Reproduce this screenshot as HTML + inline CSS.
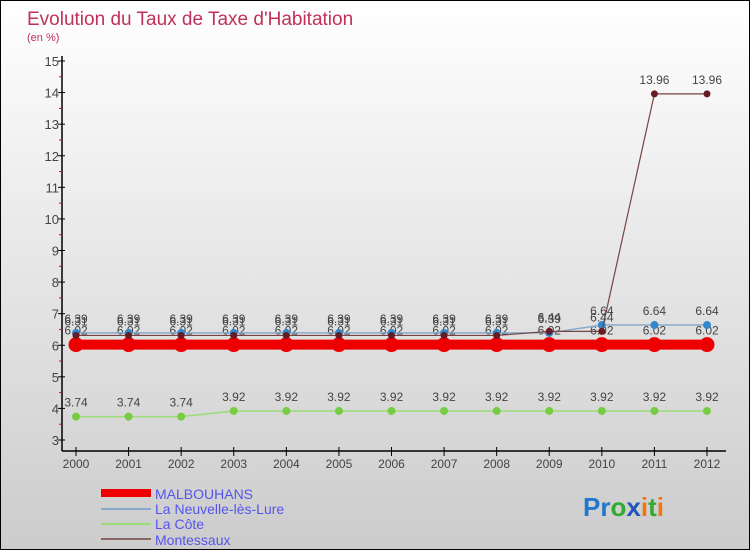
<!DOCTYPE html>
<html><head><meta charset="utf-8"><style>
body{margin:0}
#c{width:750px;height:550px;position:relative;overflow:hidden;background:linear-gradient(#ffffff,#cccccc);font-family:"Liberation Sans",sans-serif;border:1px solid #000;box-sizing:border-box}
svg{position:absolute;left:0;top:0}
</style></head><body>
<div id="c">
<svg id="s" width="750" height="550">
<text x="26" y="24" font-size="19" fill="#c0305a">Evolution du Taux de Taxe d'Habitation</text>
<text x="26" y="40" font-size="11" fill="#c0305a">(en %)</text>
<g id="axes"></g><g id="plot"></g>
<g id="legend" font-size="14" fill="#5555ee">
<rect x="100" y="488" width="50" height="8" fill="#ee0000"/>
<text x="154" y="498">MALBOUHANS</text>
<line x1="100" y1="508" x2="150" y2="508" stroke="#88aacc" stroke-width="2"/>
<text x="154" y="513">La Neuvelle-lès-Lure</text>
<line x1="100" y1="523" x2="150" y2="523" stroke="#99dd77" stroke-width="2"/>
<text x="154" y="528">La Côte</text>
<line x1="100" y1="538" x2="150" y2="538" stroke="#886666" stroke-width="2"/>
<text x="154" y="544">Montessaux</text>
</g>
<text x="582" y="515" font-size="26" font-weight="bold"><tspan fill="#2277cc">Pr</tspan><tspan fill="#33aa33">o</tspan><tspan fill="#2255bb">x</tspan><tspan fill="#ee7711">i</tspan><tspan fill="#33aa33">t</tspan><tspan fill="#ee7711">i</tspan></text>
</svg></div>
<script>
const years=[2000,2001,2002,2003,2004,2005,2006,2007,2008,2009,2010,2011,2012];
const yTicks=[3,4,5,6,7,8,9,10,11,12,13,14,15];
const malbouhans=[6.02,6.02,6.02,6.02,6.02,6.02,6.02,6.02,6.02,6.02,6.02,6.02,6.02];
const neuvelle=[6.39,6.39,6.39,6.39,6.39,6.39,6.39,6.39,6.39,6.39,6.64,6.64,6.64];
const laCote=[3.74,3.74,3.74,3.92,3.92,3.92,3.92,3.92,3.92,3.92,3.92,3.92,3.92];
const montessaux=[6.31,6.31,6.31,6.31,6.31,6.31,6.31,6.31,6.31,6.44,6.44,13.96,13.96];
const NS="http://www.w3.org/2000/svg";
const X=i=>75+i*(706-75)/12;
const Y=v=>439-(v-3)*(439-60)/12;
function mk(t,a,p){const e=document.createElementNS(NS,t);for(const k in a)e.setAttribute(k,a[k]);p.appendChild(e);return e;}
const ax=document.getElementById('axes'),pl=document.getElementById('plot');
let e=mk('line',{x1:61,y1:55,x2:61,y2:450,stroke:'#000','stroke-width':1.5},ax);

e=mk('line',{x1:61,y1:450,x2:725,y2:450,stroke:'#000','stroke-width':1.5},ax);

yTicks.forEach(v=>{mk('line',{x1:57,y1:Y(v),x2:64,y2:Y(v),stroke:'#000'},ax);
 if(v<15)mk('line',{x1:58,y1:Y(v+0.5),x2:61,y2:Y(v+0.5),stroke:'#e00'},ax);
 const t=mk('text',{x:58,y:Y(v)+5,'text-anchor':'end','font-size':13,fill:'#444'},ax);t.textContent=v;
 });
years.forEach((y,i)=>{mk('line',{x1:X(i),y1:446,x2:X(i),y2:455,stroke:'#000'},ax);
 const t=mk('text',{x:X(i),y:467,'text-anchor':'middle','font-size':12,fill:'#444'},ax);t.textContent=y;
 });
function series(d,col,lw,r,dot,name){
 const p=mk('polyline',{points:d.map((v,i)=>X(i)+','+Y(v)).join(' '),fill:'none',stroke:col,'stroke-width':lw},pl);
 
 d.forEach((v,i)=>{const c=mk('circle',{cx:X(i),cy:Y(v),r:r,fill:dot},pl);
  
  const t=mk('text',{x:X(i),y:Y(v)-10,'text-anchor':'middle','font-size':12,fill:'#444'},pl);t.textContent=v.toFixed(2).replace(/0$/,'');
  });
}
series(laCote,'#99dd77',1.5,4,'#77cc44','la-cote');
series(malbouhans,'#ee0000',10,7.5,'#ee0000','malbouhans');
series(neuvelle,'#88aacc',1.5,4,'#3388cc','neuvelle');
series(montessaux,'#774444',1.2,3.5,'#661c22','montessaux');
</script>
</body></html>
